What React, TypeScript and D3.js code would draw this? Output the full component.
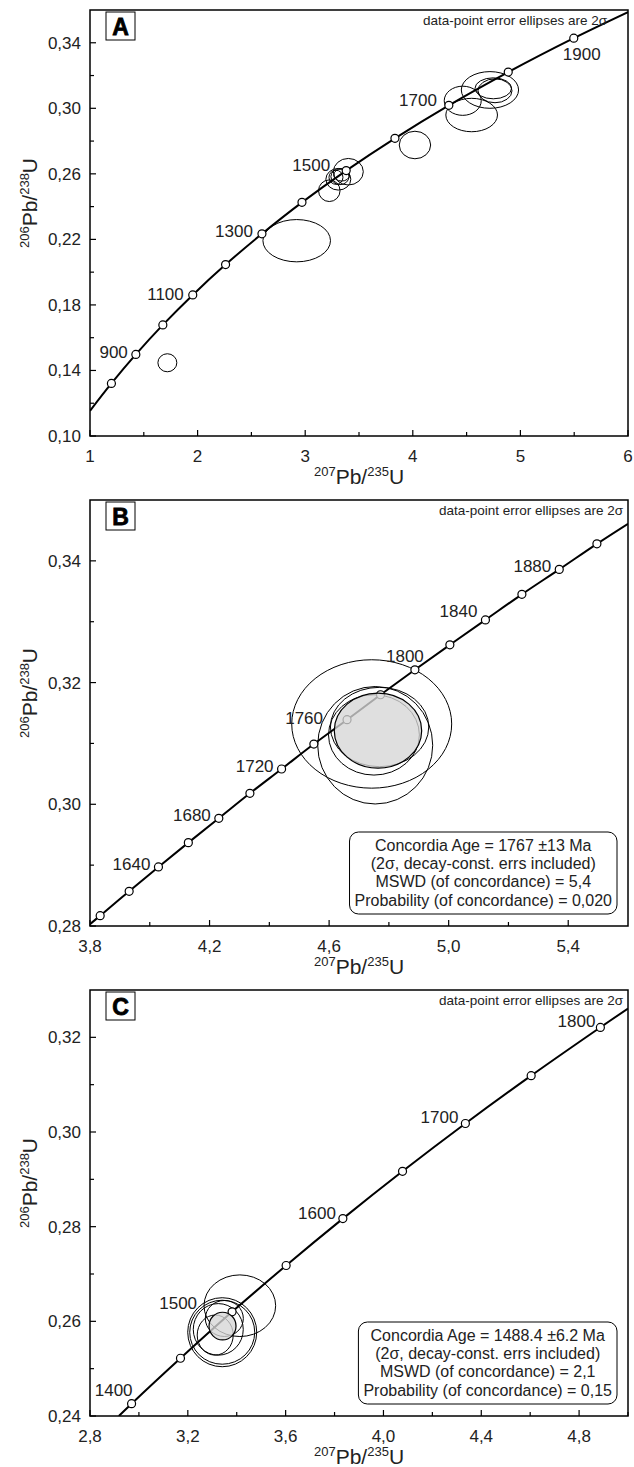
import React, { useEffect, useRef } from "react";
import * as d3 from "d3";

// ---------- panel A ----------
const markerAgesA = [800, 900, 1000, 1100, 1200, 1300, 1400, 1500, 1600, 1700, 1800, 1900];
const markerXA = [1.199, 1.426, 1.677, 1.955, 2.26, 2.598, 2.97, 3.381, 3.834, 4.335, 4.887, 5.496];
const markerYA = [0.1321, 0.1498, 0.1678, 0.1861, 0.2046, 0.2234, 0.2426, 0.262, 0.2817, 0.3018, 0.3221, 0.3428];
const lineEndsA = [[1.0, 0.1154], [6.0, 0.3587]];
const labelAgesA = [900, 1100, 1300, 1500, 1700, 1900];
// [207Pb/235U, 206Pb/238U, half-width x, half-width y]
const ellipsesA = [
  [1.719, 0.1447, 0.088, 0.0055],
  [2.921, 0.2192, 0.314, 0.0129],
  [3.224, 0.2497, 0.1, 0.0066],
  [3.401, 0.2613, 0.139, 0.0081],
  [3.308, 0.2567, 0.116, 0.0066],
  [3.323, 0.2583, 0.084, 0.0049],
  [3.286, 0.2579, 0.065, 0.0043],
  [3.339, 0.2593, 0.074, 0.0037],
  [4.02, 0.2776, 0.146, 0.0084],
  [4.464, 0.3046, 0.172, 0.0089],
  [4.547, 0.2959, 0.24, 0.0102],
  [4.717, 0.3112, 0.266, 0.0112],
  [4.748, 0.3122, 0.17, 0.0064],
  [4.764, 0.3107, 0.158, 0.0073],
];
const xTicksA = [1, 2, 3, 4, 5, 6];
const xMinorA = [1.5, 2.5, 3.5, 4.5, 5.5];
const yTicksA = [0.1, 0.14, 0.18, 0.22, 0.26, 0.3, 0.34];
const yMinorA = [0.12, 0.16, 0.2, 0.24, 0.28, 0.32];

// ---------- panel B ----------
const markerAgesB = [1600, 1620, 1640, 1660, 1680, 1700, 1720, 1740, 1760, 1780, 1800, 1820, 1840, 1860, 1880, 1900];
const markerXB = [3.834, 3.931, 4.029, 4.129, 4.231, 4.335, 4.441, 4.549, 4.66, 4.772, 4.887, 5.004, 5.123, 5.245, 5.37, 5.496];
const markerYB = [0.2817, 0.2857, 0.2897, 0.2937, 0.2977, 0.3018, 0.3058, 0.3099, 0.3139, 0.318, 0.3221, 0.3262, 0.3303, 0.3345, 0.3386, 0.3428];
const lineEndsB = [[3.8, 0.2803], [5.6, 0.3461]];
const labelAgesB = [1640, 1680, 1720, 1760, 1800, 1840, 1880];
const ellipsesB = [
  [4.7425, 0.3132, 0.2676, 0.01055],
  [4.7542, 0.3097, 0.1924, 0.00965],
  [4.7689, 0.3127, 0.1645, 0.00652],
  [4.75, 0.3114, 0.152, 0.0066],
];
const meanB = [4.7635, 0.3121, 0.1462, 0.00616];
const boxLinesB = [
  "Concordia Age = 1767 ±13 Ma",
  "(2σ, decay-const. errs included)",
  "MSWD (of concordance) = 5,4",
  "Probability (of concordance) = 0,020",
];
const xTicksB = [3.8, 4.2, 4.6, 5.0, 5.4];
const xMinorB = [4.0, 4.4, 4.8, 5.2];
const yTicksB = [0.28, 0.3, 0.32, 0.34];
const yMinorB = [0.29, 0.31, 0.33];

// ---------- panel C ----------
const markerAgesC = [1400, 1450, 1500, 1550, 1600, 1650, 1700, 1750, 1800];
const markerXC = [2.97, 3.17, 3.381, 3.602, 3.834, 4.078, 4.335, 4.604, 4.887];
const markerYC = [0.2426, 0.2522, 0.262, 0.2718, 0.2817, 0.2917, 0.3018, 0.3119, 0.3221];
const lineEndsC = [[2.918, 0.24], [5.0, 0.3261]];
const labelAgesC = [1400, 1500, 1600, 1700, 1800];
const ellipsesC = [
  [3.4127, 0.2633, 0.1465, 0.00651],
  [3.3407, 0.2577, 0.1411, 0.00729],
  [3.3407, 0.2577, 0.1329, 0.00676],
  [3.3245, 0.2583, 0.1022, 0.00545],
  [3.312, 0.2571, 0.0736, 0.00423],
  [3.3493, 0.2606, 0.0777, 0.0038],
];
const meanC = [3.3419, 0.259, 0.0552, 0.00292];
const boxLinesC = [
  "Concordia Age = 1488.4 ±6.2 Ma",
  "(2σ, decay-const. errs included)",
  "MSWD (of concordance) = 2,1",
  "Probability (of concordance) = 0,15",
];
const xTicksC = [2.8, 3.2, 3.6, 4.0, 4.4, 4.8];
const xMinorC = [3.0, 3.4, 3.8, 4.2, 4.6, 5.0];
const yTicksC = [0.24, 0.26, 0.28, 0.3, 0.32];
const yMinorC = [0.25, 0.27, 0.29, 0.31];

const FONT = "'Liberation Sans', Arial, sans-serif";
const LEFT = 90;
const RIGHT = 628;

// label placement [anchor, dx, dy] in pixels, relative to the marker
const labelPos = {
  A: { 900: ["end", -8, 4], 1100: ["end", -9, 5], 1300: ["end", -9, 3], 1500: ["end", -16, 0], 1700: ["end", -12, 1], 1900: ["start", -11, 22] },
  B: { 1640: ["end", -8, 3], 1680: ["end", -8, 3], 1720: ["end", -8, 3], 1760: ["end", -24, 4], 1800: ["middle", -10, -8], 1840: ["end", -8, -3], 1880: ["end", -8, 3] },
  C: { 1400: ["end", 1, -8], 1500: ["end", -35, -3], 1600: ["end", -7, 0], 1700: ["end", -7, 0], 1800: ["end", -5, 0] },
};

const panels = [
  {
    key: "A", top: 10, bottom: 436, xDomain: [1, 6], yDomain: [0.1, 0.36], xDigits: 0,
    xTicks: xTicksA, xMinor: xMinorA, yTicks: yTicksA, yMinor: yMinorA,
    ages: markerAgesA, mx: markerXA, my: markerYA, ends: lineEndsA, labels: labelAgesA,
    ellipses: ellipsesA, mean: null, box: null, legendRight: 607,
  },
  {
    key: "B", top: 500, bottom: 926, xDomain: [3.8, 5.6], yDomain: [0.28, 0.35], xDigits: 1,
    xTicks: xTicksB, xMinor: xMinorB, yTicks: yTicksB, yMinor: yMinorB,
    ages: markerAgesB, mx: markerXB, my: markerYB, ends: lineEndsB, labels: labelAgesB,
    ellipses: ellipsesB, mean: meanB, box: boxLinesB, legendRight: 623,
  },
  {
    key: "C", top: 990, bottom: 1416, xDomain: [2.8, 5.0], yDomain: [0.24, 0.33], xDigits: 1,
    xTicks: xTicksC, xMinor: xMinorC, yTicks: yTicksC, yMinor: yMinorC,
    ages: markerAgesC, mx: markerXC, my: markerYC, ends: lineEndsC, labels: labelAgesC,
    ellipses: ellipsesC, mean: meanC, box: boxLinesC, legendRight: 623,
  },
];

const comma = (v, digits) => v.toFixed(digits).replace(".", ",");

function ratioTitle(sel, top1, top2) {
  sel.append("tspan").attr("font-size", 13).attr("dy", -8).text(top1);
  sel.append("tspan").attr("font-size", 21).attr("dy", 8).text("Pb/");
  sel.append("tspan").attr("font-size", 13).attr("dy", -8).text(top2);
  sel.append("tspan").attr("font-size", 21).attr("dy", 8).text("U");
}

function drawPanel(svg, p) {
  const x = d3.scaleLinear().domain(p.xDomain).range([LEFT, RIGHT]);
  const y = d3.scaleLinear().domain(p.yDomain).range([p.bottom, p.top]);
  const g = svg.append("g").attr("font-family", FONT);

  const clipId = "clip" + p.key;
  g.append("clipPath").attr("id", clipId)
    .append("rect").attr("x", LEFT).attr("y", p.top)
    .attr("width", RIGHT - LEFT).attr("height", p.bottom - p.top);
  const plot = g.append("g").attr("clip-path", `url(#${clipId})`);

  // data-point error ellipses
  plot.selectAll(null).data(p.ellipses).enter().append("ellipse")
    .attr("cx", d => x(d[0])).attr("cy", d => y(d[1]))
    .attr("rx", d => x(p.xDomain[0] + d[2]) - LEFT)
    .attr("ry", d => p.bottom - y(p.yDomain[0] + d[3]))
    .attr("fill", "none").attr("stroke", "#000").attr("stroke-width", 1);

  // concordia curve
  const pts = [p.ends[0], ...p.mx.map((v, i) => [v, p.my[i]]), p.ends[1]];
  const line = d3.line().x(d => x(d[0])).y(d => y(d[1])).curve(d3.curveCatmullRom.alpha(0.5));
  plot.append("path").attr("d", line(pts))
    .attr("fill", "none").attr("stroke", "#000").attr("stroke-width", 2);

  plot.selectAll(null).data(p.ages).enter().append("circle")
    .attr("cx", (d, i) => x(p.mx[i])).attr("cy", (d, i) => y(p.my[i]))
    .attr("r", 4).attr("fill", "#fff").attr("stroke", "#000").attr("stroke-width", 1.2);

  // concordia age ellipse (translucent, on top)
  if (p.mean) {
    const m = p.mean;
    plot.append("ellipse")
      .attr("cx", x(m[0])).attr("cy", y(m[1]))
      .attr("rx", x(p.xDomain[0] + m[2]) - LEFT)
      .attr("ry", p.bottom - y(p.yDomain[0] + m[3]))
      .attr("fill", "#d6d6d6").attr("fill-opacity", 0.78)
      .attr("stroke", "#000").attr("stroke-width", 1.2);
  }

  // age labels
  const pos = labelPos[p.key];
  g.selectAll(null).data(p.labels).enter().append("text")
    .attr("x", d => x(p.mx[p.ages.indexOf(d)]) + pos[d][1])
    .attr("y", d => y(p.my[p.ages.indexOf(d)]) + pos[d][2])
    .attr("text-anchor", d => pos[d][0])
    .attr("font-size", 17).attr("fill", "#222")
    .text(d => d);

  // frame
  g.append("rect").attr("x", LEFT).attr("y", p.top)
    .attr("width", RIGHT - LEFT).attr("height", p.bottom - p.top)
    .attr("fill", "none").attr("stroke", "#000").attr("stroke-width", 1.5);

  // ticks (inward)
  const tk = g.append("g").attr("stroke", "#000").attr("stroke-width", 1.2);
  const xt = [...p.xTicks.map(v => [v, 6]), ...p.xMinor.map(v => [v, 4])];
  tk.selectAll(null).data(xt).enter().append("line")
    .attr("x1", d => x(d[0])).attr("x2", d => x(d[0]))
    .attr("y1", p.bottom).attr("y2", d => p.bottom - d[1]);
  const yt = [...p.yTicks.map(v => [v, 6]), ...p.yMinor.map(v => [v, 4])];
  tk.selectAll(null).data(yt).enter().append("line")
    .attr("x1", LEFT).attr("x2", d => LEFT + d[1])
    .attr("y1", d => y(d[0])).attr("y2", d => y(d[0]));

  g.selectAll(null).data(p.xTicks).enter().append("text")
    .attr("x", d => x(d)).attr("y", p.bottom + 26)
    .attr("text-anchor", "middle").attr("font-size", 17).attr("fill", "#222")
    .text(d => comma(d, p.xDigits));
  g.selectAll(null).data(p.yTicks).enter().append("text")
    .attr("x", LEFT - 9).attr("y", d => y(d) + 6)
    .attr("text-anchor", "end").attr("font-size", 17).attr("fill", "#222")
    .text(d => comma(d, 2));

  // axis titles
  const xt2 = g.append("text").attr("x", (LEFT + RIGHT) / 2).attr("y", p.bottom + 48)
    .attr("text-anchor", "middle").attr("fill", "#222");
  ratioTitle(xt2, "207", "235");
  const yt2 = g.append("text")
    .attr("transform", `translate(37,${(p.top + p.bottom) / 2 - 20}) rotate(-90)`)
    .attr("text-anchor", "middle").attr("fill", "#222");
  ratioTitle(yt2, "206", "238");

  // panel letter
  g.append("rect").attr("x", LEFT + 16).attr("y", p.top + 2).attr("width", 29).attr("height", 28)
    .attr("fill", "#fff").attr("stroke", "#000").attr("stroke-width", 1);
  g.append("text").attr("x", LEFT + 30.5).attr("y", p.top + 25)
    .attr("text-anchor", "middle").attr("font-size", 23).attr("font-weight", 900)
    .attr("stroke", "#000").attr("stroke-width", 0.8)
    .text(p.key);

  // legend
  g.append("text").attr("x", p.legendRight).attr("y", p.top + 15)
    .attr("text-anchor", "end").attr("font-size", 13.5).attr("fill", "#222")
    .text("data-point error ellipses are 2σ");

  // concordia age box
  if (p.box) {
    const bt = g.append("g");
    const texts = p.box.map((s, i) => bt.append("text").attr("font-size", 16).attr("fill", "#222")
      .attr("text-anchor", "middle").attr("y", i * 18).text(s));
    const w = d3.max(texts, t => t.node().getComputedTextLength()) + 10;
    const bw = w, bh = 82;
    const bx = RIGHT - 11 - bw, by = p.bottom - 12 - bh;
    bt.insert("rect", ":first-child").attr("x", bx).attr("y", by).attr("width", bw).attr("height", bh)
      .attr("rx", 9).attr("fill", "#fff").attr("stroke", "#000").attr("stroke-width", 1);
    texts.forEach((t, i) => t.attr("x", bx + bw / 2).attr("y", by + 19 + i * 18.2));
  }
}

export default function App() {
  const ref = useRef(null);
  useEffect(() => {
    const svg = d3.select(ref.current);
    svg.selectAll("*").remove();
    panels.forEach(p => drawPanel(svg, p));
  }, []);
  return (
    <svg ref={ref} width={634} height={1467}
      style={{ position: "absolute", left: 0, top: 0, background: "#fff" }} />
  );
}
